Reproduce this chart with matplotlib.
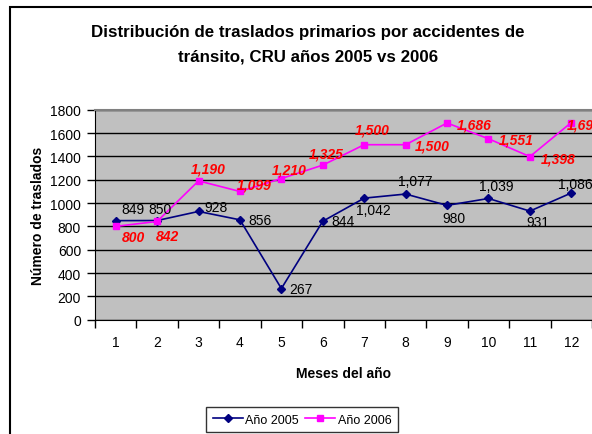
import numpy as np
import matplotlib
matplotlib.use('Agg')
import matplotlib.pyplot as plt
from matplotlib.patches import Rectangle

plt.rcParams['font.family'] = ['Liberation Sans', 'DejaVu Sans']

meses = list(range(1, 13))
anio_2005 = [849, 850, 928, 856, 267, 844, 1042, 1077, 980, 1039, 931, 1086]
anio_2006 = [800, 842, 1190, 1099, 1210, 1325, 1500, 1500, 1686, 1551, 1398, 1690]

# label offsets in pixels (dx, dy) for each point
off_2005 = [(17, 12), (3, 12), (17, 4), (20, 0), (20, 0), (20, 0),
            (9, -12), (10, 13), (7, -13), (8, 12), (8, -11), (4, 9)]
off_2006 = [(18, -11), (10, -15), (10, 12), (14, 7), (8, 9), (3, 12),
            (8, 15), (27, -1), (27, -2), (28, -1), (28, -2), (13, -2)]

fig = plt.figure(figsize=(5.92, 4.35), dpi=100)
ax = fig.add_axes([95 / 592, 1 - 320.7 / 435, 497 / 592, 210 / 435])

ax.set_facecolor('#c0c0c0')
ax.plot(meses, anio_2005, color='#000080', marker='D', markersize=4.5, lw=1.2,
        label='Año 2005', zorder=3)
ax.plot(meses, anio_2006, color='#ff00ff', marker='s', markersize=5, lw=1.2,
        label='Año 2006', zorder=3)

for x, y, (dx, dy) in zip(meses, anio_2005, off_2005):
    ax.annotate(f'{y:,}', (x, y), xytext=(dx, dy), textcoords='offset pixels',
                ha='center', va='center', fontsize=10, color='black',
                annotation_clip=False, zorder=4)
for x, y, (dx, dy) in zip(meses, anio_2006, off_2006):
    ax.annotate(f'{y:,}', (x, y), xytext=(dx, dy), textcoords='offset pixels',
                ha='center', va='center', fontsize=10, color='#ff0000',
                fontweight='bold', fontstyle='italic', annotation_clip=False,
                zorder=4)

ax.set_xlim(0.5, 12.5)
ax.set_ylim(0, 1800)
ax.set_yticks(np.arange(0, 1801, 200))
ax.yaxis.grid(True, color='black', lw=1)
ax.set_axisbelow(True)

ax.set_xticks(np.arange(0.5, 12.6, 1))
ax.set_xticklabels([])
ax.set_xticks(meses, minor=True)
ax.set_xticklabels([str(m) for m in meses], minor=True)
ax.tick_params(axis='x', which='minor', length=0, pad=11, labelsize=10)
ax.tick_params(axis='x', which='major', length=6, width=1, direction='out')
ax.tick_params(axis='y', length=6, width=1, direction='out', labelsize=10, pad=4)

ax.spines['right'].set_visible(False)
ax.spines['top'].set_color('#808080')
ax.spines['top'].set_linewidth(1.5)
ax.spines['left'].set_color('black')
ax.spines['bottom'].set_color('black')

ax.set_xlabel('Meses del año', fontsize=10, fontweight='bold', labelpad=12)
ax.set_ylabel('Número de traslados', fontsize=10, fontweight='bold', labelpad=4)

fig.text(308 / 592, 1 - 45 / 435,
         'Distribución de traslados primarios por accidentes de\ntránsito, CRU años 2005 vs 2006',
         ha='center', va='center', fontsize=12.2, fontweight='bold', linespacing=1.75)

leg = ax.legend(loc='center', bbox_to_anchor=((302 - 95) / 497, (320.7 - 420.7) / 210),
                ncol=2, fontsize=9, frameon=True, fancybox=False,
                edgecolor='black', borderpad=0.5, handlelength=2.4,
                columnspacing=0.5, handletextpad=0.2)
leg.get_frame().set_linewidth(1)

fig.patches.append(Rectangle((10 / 592, -0.1), 1.2, 1.1 - 8 / 435,
                             transform=fig.transFigure, fill=False,
                             edgecolor='black', lw=1.5))

fig.savefig('out.png', dpi=100)
